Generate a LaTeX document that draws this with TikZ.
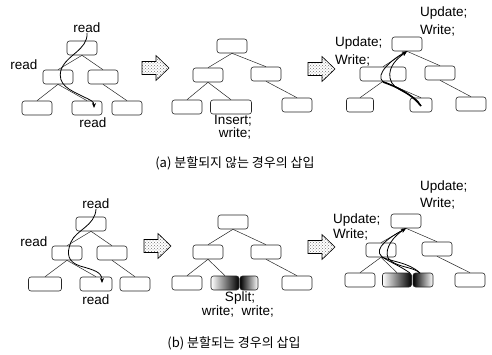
\documentclass[tikz,border=0pt]{standalone}
\usepackage{fontspec}
\setmainfont{Liberation Sans}
\newfontfamily\kr{Noto Sans CJK KR}
\usetikzlibrary{patterns,arrows.meta}
\begin{document}
\begin{tikzpicture}[x=1pt,y=-1pt,
 box/.style={draw=black!85, line width=0.6pt, rounded corners=2.5pt, minimum width=30pt, minimum height=14pt, inner sep=0pt, fill=white},
 lbl/.style={font=\fontsize{13.5}{14}\selectfont, inner sep=0pt, anchor=west},
 clbl/.style={font=\fontsize{13.5}{14}\selectfont, inner sep=0pt},
 treeline/.style={draw=black!85, line width=0.5pt},
 rpath/.style={line width=0.8pt, -{Stealth[length=5pt,width=4pt]}},
 strandline/.style={line width=1.6pt},
 fatstyle/.style={draw, line width=0.6pt, pattern=crosshatch dots, pattern color=black!55},
 fatarrow/.pic={\draw[fatstyle] (-13,-6.5) -- (1,-6.5) -- (1,-12.5) -- (14,0) -- (1,12.5) -- (1,6.5) -- (-13,6.5) -- cycle;},
 splitA/.style={box, left color=white, middle color=black!55, right color=black},
 splitB/.style={box, left color=black, middle color=black!55, right color=white},
 captxt/.style={font=\kr\fontsize{13}{14}\selectfont, inner sep=0pt}
]
\useasboundingbox (0,0) rectangle (492,355);

% ---------- (a) panel 1 ----------
\node[box] (a1r) at (82,48) {};
\node[box] (a1l) at (58,77) {};
\node[box] (a1c) at (103,77) {};
\node[box] (a1ll) at (37,108) {};
\node[box] (a1lm) at (87,108) {};
\node[box] (a1rr) at (127,108) {};
\draw[treeline] (a1r.south) -- (a1l.north);
\draw[treeline] (a1r.south) -- (a1c.north);
\draw[treeline] (a1l.south) -- (a1ll.north);
\draw[treeline] (a1l.south) -- (a1lm.north);
\draw[treeline] (a1c.south) -- (a1rr.north);
\node[clbl] (a1t) at (87,28) {read};
\node[clbl] (a1m) at (24,65) {read};
\node[clbl] (a1b) at (93,123) {read};
\draw[rpath] (a1t.south) .. controls (88,50) and (66,55) .. (61,70) .. controls (57,85) and (70,90) .. (82,96) .. controls (90,100) and (94,101) .. (94,108);

\pic at (155,68) {fatarrow};

% ---------- (a) panel 2 ----------
\node[box] (a2r) at (232,46) {};
\node[box] (a2l) at (208,75) {};
\node[box] (a2c) at (266,74) {};
\node[box] (a2ll) at (187,107) {};
\node[box, minimum width=41pt] (a2lm) at (231,107) {};
\node[box] (a2rr) at (297,105) {};
\draw[treeline] (a2r.south) -- (a2l.north);
\draw[treeline] (a2r.south) -- (a2c.north);
\draw[treeline] (a2l.south) -- (a2ll.north);
\draw[treeline] (a2l.south) -- (a2lm.north);
\draw[treeline] (a2c.south) -- (a2rr.north);
\node[clbl] (a2i) at (233,121) {Insert;};
\node[clbl] (a2w) at (235,133) {write;};

\pic at (321,69) {fatarrow};

% ---------- (a) panel 3 ----------
\node[box] (a3r) at (407,44) {};
\node[box, minimum width=46pt] (a3l) at (383,74) {};
\node[box] (a3c) at (440,73) {};
\node[box, minimum width=27pt] (a3ll) at (360,105) {};
\node[box, minimum width=22pt] (a3lm) at (421,105) {};
\node[box] (a3rr) at (471,104) {};
\draw[treeline] (a3r.south) -- (a3l.north);
\draw[treeline] (a3r.south) -- (a3c.north);
\draw[treeline] (a3l.south) -- (a3ll.north);
\draw[treeline] (a3l.south) -- (a3lm.north);
\draw[treeline] (a3c.south) -- (a3rr.north);
\node[lbl] (a3u1) at (420,13) {Update;};
\node[lbl] (a3w1) at (420,30) {Write;};
\node[lbl] (a3u2) at (335,43) {Update;};
\node[lbl] (a3w2) at (335,60) {Write;};
\coordinate (a3s) at (421,106);
\coordinate (a3k) at (383,82);
\draw[strandline] (a3s) .. controls (412,94) and (395,86) .. (a3k);
\draw[rpath] (a3k) .. controls (374,74) and (394,58) .. (a3r.south);
\draw[rpath] (a3s) .. controls (415,92) and (392,92) .. (390,78) .. controls (388,66) and (398,58) .. (a3r.south);

% ---------- (b) panel 1 ----------
\node[box] (b1r) at (91,224) {};
\node[box] (b1l) at (67,253) {};
\node[box] (b1c) at (112,253) {};
\node[box, minimum width=33pt] (b1ll) at (45,284) {};
\node[box, minimum width=32pt] (b1lm) at (96,284) {};
\node[box] (b1rr) at (135,284) {};
\draw[treeline] (b1r.south) -- (b1l.north);
\draw[treeline] (b1r.south) -- (b1c.north);
\draw[treeline] (b1l.south) -- (b1ll.north);
\draw[treeline] (b1l.south) -- (b1lm.north);
\draw[treeline] (b1c.south) -- (b1rr.north);
\node[clbl] (b1t) at (96,204) {read};
\node[clbl] (b1m) at (34,242) {read};
\node[clbl] (b1b) at (96,300) {read};
\draw[rpath] (b1t.south) .. controls (95,226) and (76,230) .. (71,242) .. controls (66,254) and (68,262) .. (80,266) .. controls (94,270) and (102,272) .. (102,283);

\pic at (157,246) {fatarrow};

% ---------- (b) panel 2 ----------
\node[box] (b2r) at (233,222) {};
\node[box] (b2l) at (208,252) {};
\node[box] (b2c) at (266,252) {};
\node[box] (b2ll) at (187,283) {};
\node[splitA, minimum width=28pt] (b2s1) at (225,283) {};
\node[splitB, minimum width=18pt] (b2s2) at (249,283) {};
\node[box] (b2rr) at (297,283) {};
\draw[treeline] (b2r.south) -- (b2l.north);
\draw[treeline] (b2r.south) -- (b2c.north);
\draw[treeline] (b2l.south) -- (b2ll.north);
\draw[treeline] (b2l.south) -- (b2s1.north);
\draw[treeline] (b2c.south) -- (b2rr.north);
\node[clbl] (b2sp) at (240,298) {Split;};
\node[clbl] (b2w) at (238,311) {write;\ \ write;};

\pic at (321,247) {fatarrow};

% ---------- (b) panel 3 ----------
\node[box] (b3r) at (406,221) {};
\node[box] (b3l) at (381,250) {};
\node[box] (b3c) at (437,249) {};
\node[box] (b3ll) at (360,280) {};
\node[splitA, minimum width=29pt] (b3s1) at (397,280) {};
\node[splitB, minimum width=20pt] (b3s2) at (423,280) {};
\node[box] (b3rr) at (470,280) {};
\draw[treeline] (b3r.south) -- (b3l.north);
\draw[treeline] (b3r.south) -- (b3c.north);
\draw[treeline] (b3l.south) -- (b3ll.north);
\draw[treeline] (b3l.south) -- (b3s1.north);
\draw[treeline] (b3c.south) -- (b3rr.north);
\node[lbl] (b3u1) at (420,187) {Update;};
\node[lbl] (b3w1) at (420,203) {Write;};
\node[lbl] (b3u2) at (333,220) {Update;};
\node[lbl] (b3w2) at (333,234) {Write;};
\coordinate (b3k) at (382,257);
\coordinate (b3e1) at (410,273);
\coordinate (b3e2) at (420,273);
\draw[line width=0.8pt] (b3e1) .. controls (400,266) and (390,262) .. (b3k);
\draw[line width=0.8pt] (b3e2) .. controls (408,262) and (392,262) .. (b3k);
\draw[line width=0.8pt] (b3e2) .. controls (412,266) and (396,268) .. (388,258);
\draw[rpath] (b3k) .. controls (372,248) and (392,236) .. (b3r.south);
\draw[rpath] (388,258) .. controls (384,248) and (394,236) .. (b3r.south);

% ---------- captions ----------
\node[captxt] (capa) at (235,163) {(a) 분할되지 않는 경우의 삽입};
\node[captxt] (capb) at (234,343) {(b) 분할되는 경우의 삽입};
\end{tikzpicture}
\end{document}
